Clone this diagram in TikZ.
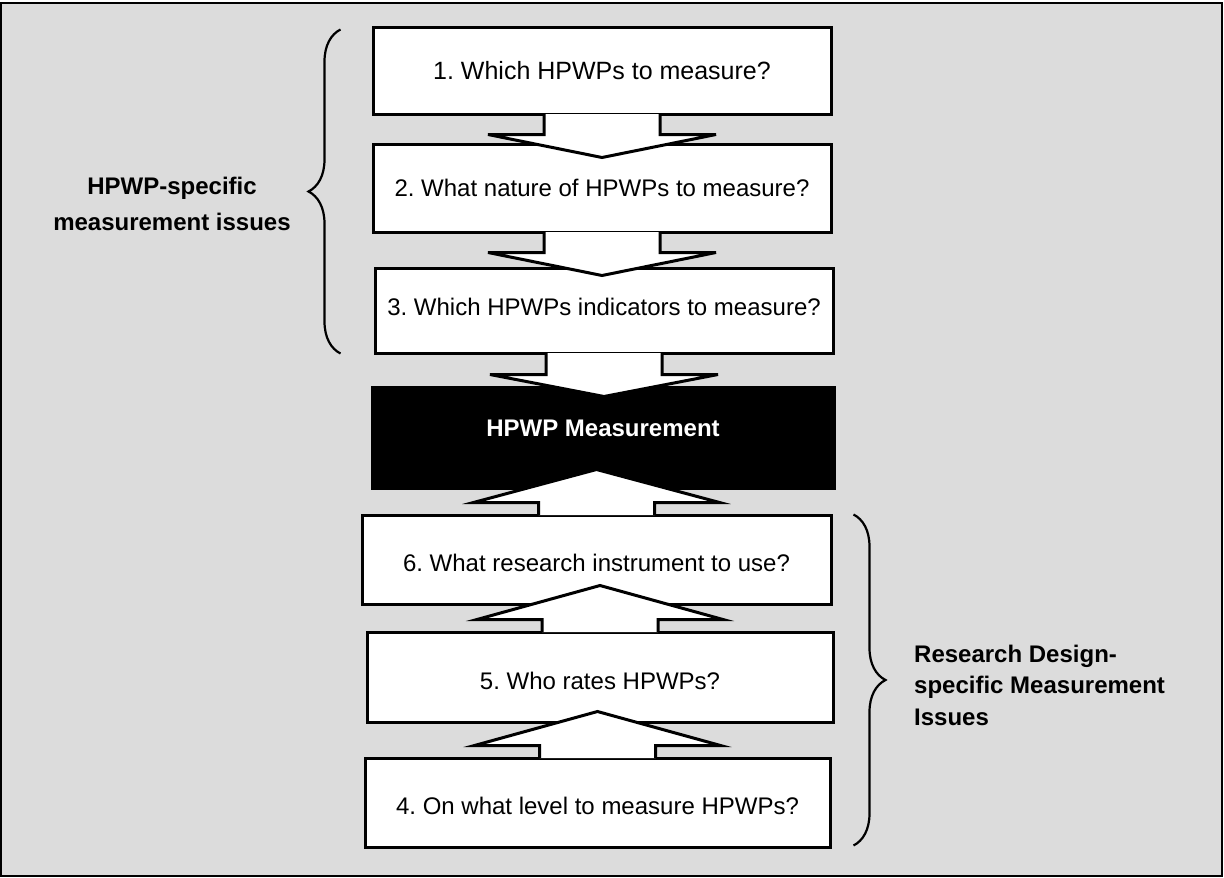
\documentclass[tikz,border=0pt]{standalone}
\usepackage{fontspec}
\setmainfont{Liberation Sans}
\usepackage{xcolor}
\usepackage{tikz}
\usetikzlibrary{calc,decorations.pathreplacing}
\definecolor{panelgray}{RGB}{220,220,220}
\frenchspacing

\begin{document}
\begin{tikzpicture}[x=1pt,y=-1pt,
  qbox/.style={draw=black,fill=white,line width=3pt,inner sep=0pt,
               font=\fontsize{24}{30}\selectfont},
  arr/.style={draw=black,fill=white,line width=3pt},
  brc/.style={decorate,decoration={brace,amplitude=32pt},line width=2.2pt},
  lbl/.style={inner sep=0pt,font=\bfseries\fontsize{24}{36}\selectfont}]
\useasboundingbox (0,0) rectangle (1224,878);
\draw[fill=panelgray,line width=2pt] (1,3) rectangle (1222,876);
\node[qbox,font=\fontsize{25}{30}\selectfont,minimum width=458,minimum height=87] (q1) at (602,70.5) {1. Which HPWPs to measure?};
\node[qbox,minimum width=458,minimum height=88] (q2) at (602,188) {2. What nature of HPWPs to measure?};
\node[qbox,text depth=8pt,minimum width=458,minimum height=85] (q3) at (604,310.5) {3. Which HPWPs indicators to measure?};
\node[qbox,fill=black,text=white,font=\bfseries\fontsize{24}{30}\selectfont,text depth=19pt,
      minimum width=462,minimum height=101] (hm) at (603,437.5) {HPWP Measurement};
\node[qbox,text height=25pt,minimum width=469,minimum height=89] (q6) at (596.5,559.5) {6. What research instrument to use?};
\node[qbox,text height=25pt,minimum width=466,minimum height=90] (q5) at (600,677) {5. Who rates HPWPs?};
\node[qbox,text height=25pt,minimum width=465,minimum height=89] (q4) at (597.5,802.5) {4. On what level to measure HPWPs?};
\foreach \a/\an/\o/\sl/\tl/\hw in {q1/south/-1.5/19/42/114,q2/south/-1.5/19/42/114,q3/south/-1.5/20/42/114,
    q6/north/1.5/-11/-44/123,q5/north/1.5/-11/-45/123,q4/north/1.5/-11/-45/123}
  \draw[arr] ($(\a.\an)+(-58,\o)$) -- ($(\a.\an)+(-58,\sl)$) -- ($(\a.\an)+(-\hw,\sl)$)
    -- ($(\a.\an)+(0,\tl)$) -- ($(\a.\an)+(\hw,\sl)$) -- ($(\a.\an)+(58,\sl)$) -- ($(\a.\an)+(58,\o)$);
\draw[brc] ($(q1.north west |- q3.south)+(-31,-1)$) -- ($(q1.north west)+(-31,4)$);
\draw[brc] ($(q6.north east)+(21,1)$) -- ($(q6.north east |- q4.south)+(21,-3)$);
\node[lbl,align=center] (lhs) at (172,204) {HPWP-specific\\measurement issues};
\node[lbl,align=left,anchor=west,font=\bfseries\fontsize{24}{31.5}\selectfont] (rhs) at (914,685)
  {Research Design-\\specific Measurement\\Issues};
\end{tikzpicture}
\end{document}
